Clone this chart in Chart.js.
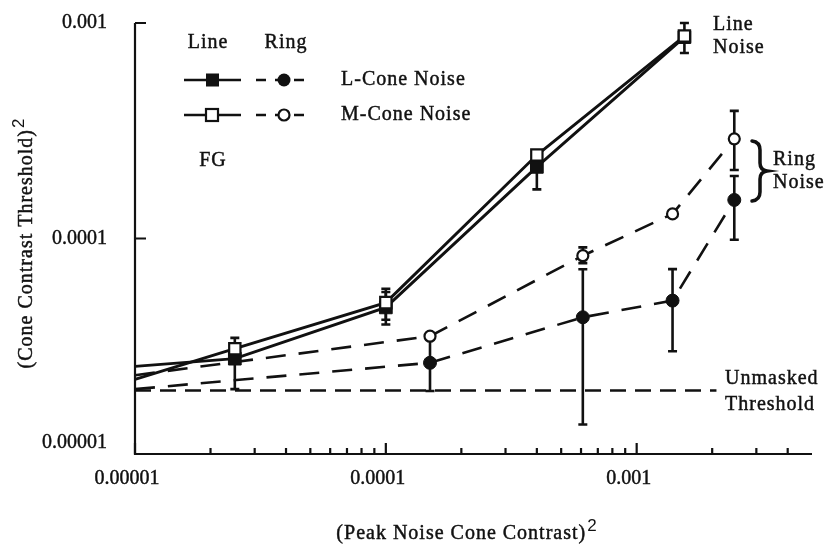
<!DOCTYPE html>
<html>
<head>
<meta charset="utf-8">
<title>Cone contrast thresholds vs noise</title>
<script src="https://cdn.jsdelivr.net/npm/chart.js@4.4.1/dist/chart.umd.min.js"></script>
<style>
  html, body { margin: 0; padding: 0; background: #fff; }
  #wrap { width: 828px; height: 546px; }
</style>
</head>
<body>
<div id="wrap"><canvas id="thresholds" width="828" height="546"></canvas></div>
<script>
// noise contrast (x) for the two masking conditions
const xLine = [0.00001, 0.000025, 0.0001, 0.0004, 0.00155];
const xRing = [0.00001, 0.00015, 0.00061, 0.00139, 0.00245];

// thresholds, line noise
const lConeLine = [2.55e-5, 2.77e-5, 4.79e-5, 2.15e-4, 8.6e-4];
const mConeLine = [2.22e-5, 3.08e-5, 5.04e-5, 2.44e-4, 8.7e-4];
// thresholds, ring noise
const lConeRing = [2.0e-5, 2.65e-5, 4.31e-5, 5.15e-5, 1.51e-4];
const mConeRing = [2.32e-5, 3.52e-5, 8.32e-5, 1.30e-4, 2.9e-4];

// error bar ends (null = no bar on that side)
const lLineLo = [null, 2.0e-5, 3.99e-5, 1.69e-4, null];
const lLineHi = [null, null, 5.65e-5, null, null];
const mLineLo = [null, null, 4.2e-5, null, 7.26e-4];
const mLineHi = [null, 3.46e-5, 5.85e-5, null, 1.0e-3];
const lRingLo = [null, 1.96e-5, 1.37e-5, 3.0e-5, 9.86e-5];
const lRingHi = [null, 3.45e-5, 7.2e-5, 7.21e-5, 1.95e-4];
const mRingLo = [null, null, 7.69e-5, null, 2.08e-4];
const mRingHi = [null, null, 9.1e-5, null, 3.91e-4];

// unmasked threshold
const unmaskedX = [0.00001, 0.00208];
const unmaskedY = 1.97e-5;

// axes
const xRange = [0.00001, 0.005];
const yRange = [0.00001, 0.001];
const xTicks = [0.00001, 0.0001, 0.001];
const xTickLabels = ['0.00001', '0.0001', '0.001'];
const yTicks = [0.00001, 0.0001, 0.001];
const yTickLabels = ['0.00001', '0.0001', '0.001'];
const minorMantissas = [2, 3, 4, 5, 6, 7, 8, 9];

const SERIF = '"Liberation Serif", "Times New Roman", serif';
const INK = '#111';

function pts(xs, ys){ return xs.map((x,i)=>({x, y: ys[i]})); }
function radii(n, r){ return Array.from({length:n}, (_,i)=> i === 0 ? 0 : r); }

const datasets = [
  { label:'M line', data: pts(xLine, mConeLine), errLo: mLineLo, errHi: mLineHi,
    borderColor: INK, borderWidth: 2.9, pointStyle:'rect', pointRadius: radii(5, 8),
    pointBackgroundColor:'#fff', pointBorderColor: INK, pointBorderWidth: 2.2 },
  { label:'L line', data: pts(xLine, lConeLine), errLo: lLineLo, errHi: lLineHi,
    borderColor: INK, borderWidth: 2.9, pointStyle:'rect', pointRadius: radii(5, 9),
    pointBackgroundColor: INK, pointBorderColor: INK, pointBorderWidth: 1 },
  { label:'M ring', data: pts(xRing, mConeRing), errLo: mRingLo, errHi: mRingHi,
    borderColor: INK, borderWidth: 2.6, borderDash:[20,13], pointStyle:'circle', pointRadius: radii(5, 5.5),
    pointBackgroundColor:'#fff', pointBorderColor: INK, pointBorderWidth: 2.2 },
  { label:'L ring', data: pts(xRing, lConeRing), errLo: lRingLo, errHi: lRingHi,
    borderColor: INK, borderWidth: 2.6, borderDash:[20,13], pointStyle:'circle', pointRadius: radii(5, 6.5),
    pointBackgroundColor: INK, pointBorderColor: INK, pointBorderWidth: 1 },
  { label:'Unmasked', data: unmaskedX.map(x=>({x, y: unmaskedY})),
    borderColor: INK, borderWidth: 2.4, borderDash:[16,9], pointRadius: 0 }
];

// serif label, slightly stroked so it prints as heavily as the ink lines
function text(ctx, str, x, y, align, size, spacing){
  ctx.font = (size || 20) + 'px ' + SERIF;
  ctx.textAlign = align || 'left';
  ctx.textBaseline = 'middle';
  ctx.letterSpacing = (spacing == null ? 1 : spacing) + 'px';
  ctx.lineWidth = 0.45;
  ctx.fillText(str, x, y);
  ctx.strokeText(str, x, y);
  ctx.letterSpacing = '0px';
}

// text followed by a raised sans "2", centred on cx
function titleWithSquare(ctx, str, cx, cy){
  ctx.font = '20px ' + SERIF;
  ctx.letterSpacing = '1px';
  const w1 = ctx.measureText(str).width;
  ctx.font = '17px "Liberation Sans", Arial, sans-serif';
  const w2 = ctx.measureText('2').width;
  const x0 = cx - (w1 + w2 + 1) / 2;
  ctx.font = '20px ' + SERIF;
  ctx.textAlign = 'left';
  ctx.textBaseline = 'middle';
  ctx.lineWidth = 0.45;
  ctx.fillText(str, x0, cy);
  ctx.strokeText(str, x0, cy);
  ctx.letterSpacing = '0px';
  ctx.font = '17px "Liberation Sans", Arial, sans-serif';
  ctx.fillText('2', x0 + w1 + 1, cy - 8);
}

const decor = {
  id: 'decor',
  beforeDatasetsDraw(chart){
    const {ctx, scales:{x, y}} = chart;
    ctx.save();
    ctx.strokeStyle = INK;
    ctx.lineWidth = 2.6;
    chart.data.datasets.forEach(ds=>{
      if(!ds.errLo) return;
      ds.data.forEach((p,i)=>{
        const lo = ds.errLo[i], hi = ds.errHi[i];
        if(lo == null && hi == null) return;
        const px = x.getPixelForValue(p.x);
        const yTop = y.getPixelForValue(hi != null ? hi : p.y);
        const yBot = y.getPixelForValue(lo != null ? lo : p.y);
        ctx.beginPath();
        ctx.moveTo(px, yTop); ctx.lineTo(px, yBot);
        if(hi != null){ ctx.moveTo(px-4.5, yTop); ctx.lineTo(px+4.5, yTop); }
        if(lo != null){ ctx.moveTo(px-4.5, yBot); ctx.lineTo(px+4.5, yBot); }
        ctx.stroke();
      });
    });
    ctx.restore();
  },
  afterDraw(chart){
    const {ctx, chartArea:a, scales:{x, y}} = chart;
    ctx.save();
    ctx.strokeStyle = INK;
    ctx.fillStyle = INK;

    // axis lines
    ctx.lineWidth = 2.2;
    ctx.beginPath();
    ctx.moveTo(a.left, y.getPixelForValue(yRange[1]));
    ctx.lineTo(a.left, a.bottom);
    ctx.lineTo(x.getPixelForValue(xRange[1]), a.bottom);
    ctx.stroke();

    // inward ticks
    ctx.beginPath();
    xTicks.forEach(v=>{
      const px = x.getPixelForValue(v);
      ctx.moveTo(px, a.bottom); ctx.lineTo(px, a.bottom - 11);
      minorMantissas.forEach(m=>{
        const mv = m * v;
        if(mv >= xRange[1]) return;
        const mx = x.getPixelForValue(mv);
        ctx.moveTo(mx, a.bottom); ctx.lineTo(mx, a.bottom - 6);
      });
    });
    yTicks.forEach(v=>{
      const py = y.getPixelForValue(v);
      ctx.moveTo(a.left, py); ctx.lineTo(a.left + 11, py);
    });
    ctx.stroke();

    // tick labels
    xTicks.forEach((v,i)=>{
      text(ctx, xTickLabels[i], x.getPixelForValue(v) - 8, a.bottom + 25, 'center', 20, 0);
    });
    yTicks.forEach((v,i)=>{
      const py = i === 0 ? a.bottom - 11 : y.getPixelForValue(v);
      text(ctx, yTickLabels[i], 107, py, 'right', 20, 0);
    });

    // axis titles
    titleWithSquare(ctx, '(Peak Noise Cone Contrast)', 467, 534);
    ctx.save();
    ctx.translate(27, 243);
    ctx.rotate(-Math.PI / 2);
    titleWithSquare(ctx, '(Cone Contrast Threshold)', 0, 0);
    ctx.restore();

    // key
    text(ctx, 'Line', 208, 43, 'center');
    text(ctx, 'Ring', 286, 43, 'center');
    const rows = [{y: 80, fill: true, name: 'L-Cone Noise'}, {y: 115, fill: false, name: 'M-Cone Noise'}];
    rows.forEach(r=>{
      ctx.lineWidth = 2.6;
      ctx.setLineDash([]);
      ctx.beginPath(); ctx.moveTo(184, r.y); ctx.lineTo(241, r.y); ctx.stroke();
      ctx.setLineDash([10, 9]);
      ctx.beginPath(); ctx.moveTo(256, r.y); ctx.lineTo(313, r.y); ctx.stroke();
      ctx.setLineDash([]);
      ctx.lineWidth = 2.2;
      if(r.fill){
        ctx.fillStyle = INK;
        ctx.fillRect(206, r.y - 6.5, 13, 13);
        ctx.beginPath(); ctx.arc(284, r.y, 6.5, 0, Math.PI * 2); ctx.fill();
      } else {
        ctx.fillStyle = '#fff';
        ctx.fillRect(206, r.y - 6, 12, 12);
        ctx.strokeRect(206, r.y - 6, 12, 12);
        ctx.beginPath(); ctx.arc(284, r.y, 5.5, 0, Math.PI * 2); ctx.fill(); ctx.stroke();
      }
      ctx.fillStyle = INK;
      text(ctx, r.name, 341, r.y, 'left');
    });
    text(ctx, 'FG', 213, 161, 'center');

    // annotations
    text(ctx, 'Line', 713, 25, 'left');
    text(ctx, 'Noise', 713, 48, 'left');
    text(ctx, 'Ring', 773, 160, 'left');
    text(ctx, 'Noise', 773, 183, 'left');
    text(ctx, 'Unmasked', 725, 379, 'left');
    text(ctx, 'Threshold', 725, 405, 'left');

    // brace grouping the ring-noise end points
    ctx.lineWidth = 3.5;
    ctx.lineCap = 'round';
    ctx.beginPath();
    ctx.moveTo(752, 141);
    ctx.quadraticCurveTo(760, 142, 760, 150);
    ctx.lineTo(760, 163);
    ctx.quadraticCurveTo(760, 170, 767, 171);
    ctx.quadraticCurveTo(760, 172, 760, 179);
    ctx.lineTo(760, 192);
    ctx.quadraticCurveTo(760, 200, 752, 201);
    ctx.stroke();

    ctx.restore();
  }
};

new Chart(document.getElementById('thresholds'), {
  type: 'line',
  data: { datasets },
  options: {
    responsive: false,
    animation: false,
    devicePixelRatio: 1,
    layout: { padding: { left: 135, right: 16, top: 23, bottom: 92 } },
    datasets: { line: { clip: false, tension: 0, fill: false } },
    scales: {
      x: { type: 'logarithmic', min: xRange[0], max: xRange[1], display: false },
      y: { type: 'logarithmic', min: yRange[0], max: yRange[1], display: false }
    },
    plugins: { legend: { display: false }, tooltip: { enabled: false } }
  },
  plugins: [decor]
});
</script>
</body>
</html>
